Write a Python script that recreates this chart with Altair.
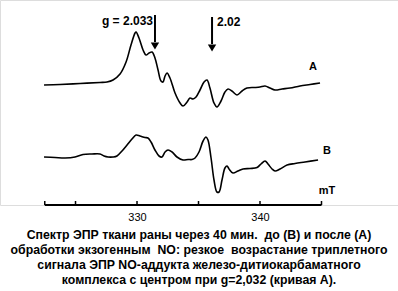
import altair as alt
import pandas as pd

# Field (mT) and EPR intensity (arbitrary units)
field_a = [322.44, 323.74, 325.37, 326.99, 327.56, 328.05, 328.62, 329.11, 329.51, 329.84,
           329.92, 330.16, 330.49, 330.73, 330.98, 331.22, 331.46, 331.71, 331.95, 332.11,
           332.28, 332.44, 332.68, 333.09, 333.50, 333.74, 334.07, 334.31, 334.55, 334.80,
           335.12, 335.45, 335.69, 335.93, 336.26, 336.50, 336.83, 337.15, 337.40, 337.72,
           338.13, 338.54, 338.94, 339.59, 340.00, 340.41, 340.81, 341.22, 341.79, 342.44,
           343.25, 344.07, 344.88]
signal_a = [0, 0.5, 1.5, 2.5, 3, 5, 11, 23, 40, 52,
            53, 47, 35, 30, 32, 33, 27, 15, 4, 3,
            9, 12, 7, -8, -18, -21, -17, -13, -14, -12,
            -5, 3, 5, -3, -18, -22, -16, -7, -4, -6,
            -10, -6, -3, -2.5, -2, -1, -3, -5, -4, -3,
            -1, 0.5, 2]

field_b = [322.44, 323.33, 324.15, 324.96, 325.61, 326.34, 326.99, 327.32, 327.64, 328.05,
           328.37, 328.78, 329.19, 329.59, 329.92, 330.24, 330.65, 330.89, 331.14, 331.46,
           331.79, 332.03, 332.28, 332.52, 332.85, 333.25, 333.74, 334.15, 334.47, 334.72,
           335.04, 335.37, 335.61, 335.77, 336.02, 336.26, 336.50, 336.67, 336.91, 337.15,
           337.32, 337.48, 337.80, 338.21, 338.62, 339.19, 339.76, 340.08, 340.41, 340.65,
           340.98, 341.22, 341.63, 342.20, 342.85, 343.66, 344.72]
signal_b = [0, -0.5, -1, 0, 2.5, 3, 3, 1, 0, 0,
            1, 6, 12, 18, 22, 21, 19.5, 19, 15, 7,
            1, 0, 5, 7, 5, 0, -3, -2.5, -2.5, -1,
            5, 16, 20, 17, -1, -23, -35, -35, -23, -11,
            -9, -12, -16, -14, -12, -11.5, -10.5, -7, -4, -7,
            -12, -14, -12, -8, -6.5, -5, -3]

curve_names = ["A", "B"]
curve_offsets = [120, 48]  # vertical stacking of the two spectra

tick_values = [322.5, 325, 330, 335, 340, 345]
label_values = [330, 340]

annot_text = ["g = 2.033", "2.02"]
arrow_fields = [331.46, 336.10]

caption = [
    "Спектр ЭПР ткани раны через 40 мин.\u00a0 до (В) и после (А)",
    "обработки экзогенным\u00a0 NO: резкое\u00a0 возрастание триплетного",
    "сигнала ЭПР NO-аддукта железо-дитиокарбаматного",
    "комплекса с центром при g=2,032 (кривая А).",
]

rows = []
for f, s in zip(field_a, signal_a):
    rows.append({"field": f, "signal": s + curve_offsets[0], "curve": curve_names[0]})
for f, s in zip(field_b, signal_b):
    rows.append({"field": f, "signal": s + curve_offsets[1], "curve": curve_names[1]})
spec = pd.DataFrame(rows)

FONT = "Liberation Sans"
xs = alt.Scale(domain=[318.86, 351.22], nice=False, zero=False)
ys = alt.Scale(domain=[0, 205], nice=False, zero=False)

lines = alt.Chart(spec).mark_line(color="black", strokeWidth=1.6, interpolate="catmull-rom").encode(
    x=alt.X("field:Q", scale=xs,
            axis=alt.Axis(values=label_values, domain=False, ticks=False, grid=False, title=None,
                          labelFont=FONT, labelFontSize=11, labelColor="black", labelPadding=6)),
    y=alt.Y("signal:Q", scale=ys, axis=None),
    detail="curve:N",
)

axis_line = alt.Chart(pd.DataFrame({"a": [tick_values[0]], "b": [tick_values[-1]]})).mark_rule(
    color="black", strokeWidth=2).encode(
    x=alt.X("a:Q", scale=xs), x2="b:Q", y=alt.value(205))

ticks = alt.Chart(pd.DataFrame({"t": tick_values})).mark_rule(color="black", strokeWidth=1.5).encode(
    x=alt.X("t:Q", scale=xs), y=alt.value(201), y2=alt.value(205))

curve_labels = alt.Chart(pd.DataFrame({
    "x": [344.31, 345.45, 345.45], "y": [138, 54, 14], "t": ["A", "B", "mT"]})).mark_text(
    font=FONT, fontSize=11, fontWeight="bold", color="black", align="center", baseline="middle").encode(
    x=alt.X("x:Q", scale=xs), y=alt.Y("y:Q", scale=ys), text="t:N")

g_label = alt.Chart(pd.DataFrame({"x": [331.30], "y": [184], "t": [annot_text[0]]})).mark_text(
    font=FONT, fontSize=12, fontWeight="bold", color="black", align="right", baseline="middle").encode(
    x=alt.X("x:Q", scale=xs), y=alt.Y("y:Q", scale=ys), text="t:N")
g2_label = alt.Chart(pd.DataFrame({"x": [336.50], "y": [183], "t": [annot_text[1]]})).mark_text(
    font=FONT, fontSize=12, fontWeight="bold", color="black", align="left", baseline="middle").encode(
    x=alt.X("x:Q", scale=xs), y=alt.Y("y:Q", scale=ys), text="t:N")

arrows_df = pd.DataFrame({"x": arrow_fields, "top": [190, 188], "bot": [163, 161], "head": [159, 157]})
shafts = alt.Chart(arrows_df).mark_rule(color="black", strokeWidth=2).encode(
    x=alt.X("x:Q", scale=xs), y=alt.Y("top:Q", scale=ys), y2="bot:Q")
heads = alt.Chart(arrows_df).mark_point(shape="triangle-down", filled=True, color="black",
                                        size=70, opacity=1).encode(
    x=alt.X("x:Q", scale=xs), y=alt.Y("head:Q", scale=ys))

chart = alt.layer(lines, axis_line, ticks, curve_labels, g_label, g2_label, shafts, heads).properties(
    width=398, height=205,
    title=alt.TitleParams(text=caption, orient="bottom", anchor="middle", frame="group",
                          font=FONT, fontSize=12.3, fontWeight="bold", color="black",
                          lineHeight=15, offset=7),
    autosize=alt.AutoSizeParams(type="none"),
    padding={"left": 0, "top": 0, "right": 0, "bottom": 86},
).configure_view(stroke=None).configure(background="white")

chart.save("out.html", embed_options={"renderer": "svg", "actions": False})
